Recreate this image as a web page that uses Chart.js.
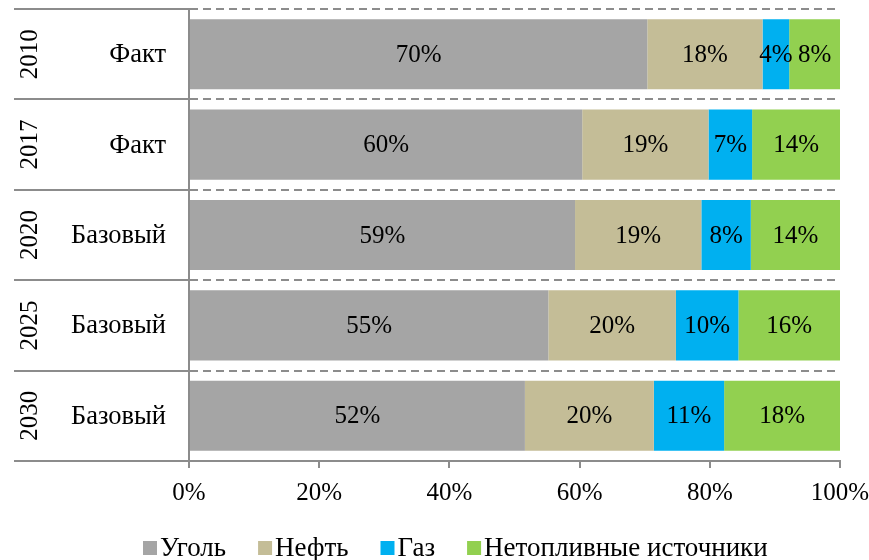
<!DOCTYPE html>
<html>
<head>
<meta charset="utf-8">
<script src="https://cdn.jsdelivr.net/npm/chart.js@4.4.1/dist/chart.umd.min.js"></script>
<style>
  html, body { margin: 0; padding: 0; background: #fff; }
  #wrap { width: 869px; height: 560px; position: relative; }
</style>
</head>
<body>
<div id="wrap"><canvas id="c" width="869" height="560"></canvas></div>
<script>
const categories = ['2010', '2017', '2020', '2025', '2030'];
const scenarios = ['Факт', 'Факт', 'Базовый', 'Базовый', 'Базовый'];
const seriesNames = ['Уголь', 'Нефть', 'Газ', 'Нетопливные источники'];
const coal = [70.4, 60.4, 59.3, 55.2, 51.6];
const oil = [17.7, 19.4, 19.4, 19.6, 19.8];
const gas = [4.1, 6.7, 7.6, 9.6, 10.8];
const nonFuel = [7.8, 13.5, 13.7, 15.6, 17.8];
const xTickValues = [0, 20, 40, 60, 80, 100];

const colors = ['#A5A5A5', '#C4BD97', '#00B0F0', '#92D050'];
const FONT = '"Liberation Serif", "Times New Roman", serif';
const NUM_FS = 25;
const TXT_FS = 26.5;
const LEG_FS = 27;
const GRID = '#8C8C8C';

const seriesData = [coal, oil, gas, nonFuel];

const labelPlugin = {
  id: 'segLabels',
  afterDatasetsDraw(chart) {
    const ctx = chart.ctx;
    ctx.save();
    ctx.font = NUM_FS + 'px ' + FONT;
    ctx.fillStyle = '#000';
    ctx.textAlign = 'center';
    ctx.textBaseline = 'middle';
    chart.data.datasets.forEach((ds, di) => {
      const meta = chart.getDatasetMeta(di);
      meta.data.forEach((el, i) => {
        const v = ds.data[i];
        const cx = (el.x + el.base) / 2;
        ctx.fillText(Math.round(v) + '%', cx, el.y + 1);
      });
    });
    ctx.restore();
  }
};

const catPlugin = {
  id: 'catLabels',
  afterDraw(chart) {
    const ctx = chart.ctx;
    const ys = chart.scales.y;
    ctx.save();
    ctx.fillStyle = '#000';
    ctx.textBaseline = 'middle';
    categories.forEach((c, i) => {
      const y = ys.getPixelForTick(i);
      ctx.save();
      ctx.font = NUM_FS + 'px ' + FONT;
      ctx.translate(30, y);
      ctx.rotate(-Math.PI / 2);
      ctx.textAlign = 'center';
      ctx.fillText(c, 0, 0);
      ctx.restore();
      ctx.font = TXT_FS + 'px ' + FONT;
      ctx.textAlign = 'right';
      ctx.fillText(scenarios[i], 166, y + 1);
    });
    // legend
    ctx.font = LEG_FS + 'px ' + FONT;
    ctx.textAlign = 'left';
    let x = 143;
    const ly = 548;
    chart.data.datasets.forEach((ds) => {
      ctx.fillStyle = ds.backgroundColor;
      ctx.fillRect(x, ly - 7, 14, 14);
      x += 17;
      ctx.fillStyle = '#000';
      ctx.fillText(ds.label, x, ly + 1);
      x += ctx.measureText(ds.label).width + 32;
    });
    ctx.restore();
  }
};

new Chart(document.getElementById('c'), {
  type: 'bar',
  data: {
    labels: categories,
    datasets: seriesNames.map((n, k) => ({
      label: n,
      data: seriesData[k],
      backgroundColor: colors[k],
      borderWidth: 0,
      barPercentage: 0.775,
      categoryPercentage: 1.0
    }))
  },
  options: {
    indexAxis: 'y',
    responsive: false,
    animation: false,
    devicePixelRatio: 1,
    layout: { padding: { top: 9, right: 29, left: 0, bottom: 0 } },
    plugins: {
      legend: { display: false },
      tooltip: { enabled: false }
    },
    scales: {
      x: {
        stacked: true,
        min: 0,
        max: 100,
        afterBuildTicks(axis) { axis.ticks = xTickValues.map(v => ({ value: v })); },
        afterFit(axis) { axis.height = 99; axis.paddingLeft = 0; axis.paddingRight = 0; },
        ticks: {
          callback: v => v + '%',
          font: { family: FONT, size: NUM_FS },
          color: '#000',
          padding: 10,
          maxRotation: 0
        },
        grid: {
          drawOnChartArea: false,
          drawTicks: true,
          tickLength: 7,
          color: GRID,
          lineWidth: 2
        },
        border: { display: true, color: GRID, width: 2 }
      },
      y: {
        stacked: true,
        afterFit(axis) { axis.width = 189; axis.paddingTop = 0; axis.paddingBottom = 0; },
        ticks: { display: false },
        grid: {
          offset: true,
          drawOnChartArea: true,
          drawTicks: true,
          tickLength: 175,
          color: GRID,
          lineWidth: 2,
          tickBorderDash: [],
          tickColor: GRID,
          tickWidth: 2
        },
        border: { display: true, color: GRID, width: 2, dash: [8, 5] }
      }
    }
  },
  plugins: [labelPlugin, catPlugin]
});
</script>
</body>
</html>
